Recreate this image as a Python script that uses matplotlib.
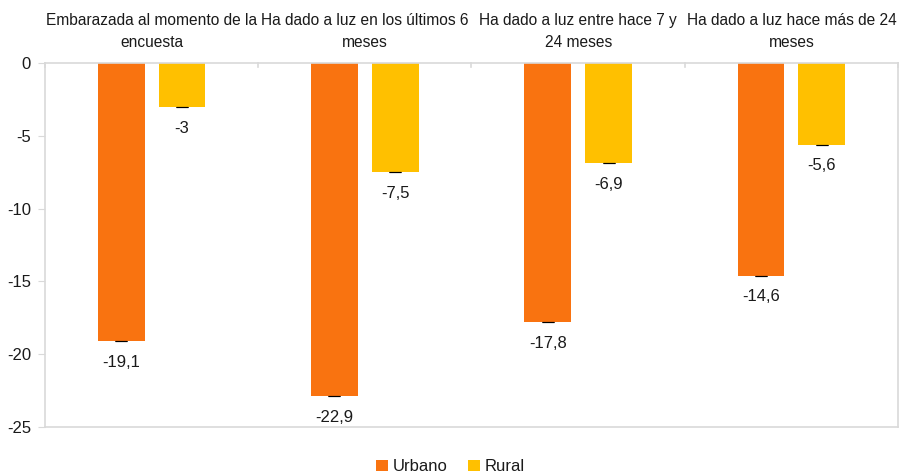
import numpy as np
import matplotlib.pyplot as plt

plt.rcParams['font.family'] = ['Liberation Sans', 'DejaVu Sans']
plt.rcParams['axes.unicode_minus'] = False

# Data
categories = ['Embarazada al momento de la\nencuesta',
              'Ha dado a luz en los últimos 6\nmeses',
              'Ha dado a luz entre hace 7 y\n24 meses',
              'Ha dado a luz hace más de 24\nmeses']
urbano = [-19.1, -22.9, -17.8, -14.6]
rural = [-3, -7.5, -6.9, -5.6]
series_names = ['Urbano', 'Rural']

c_urb = '#F97310'
c_rur = '#FFC000'
grid_c = '#D9D9D9'

fig = plt.figure(figsize=(9.01, 4.75), dpi=100)
ax = fig.add_axes([0.0499, 0.1011, 0.9468, 0.7663])

x = np.arange(len(categories))
w = 0.22
off = 0.1425

b1 = ax.bar(x - off, urbano, w, color=c_urb, label=series_names[0])
b2 = ax.bar(x + off, rural, w, color=c_rur, label=series_names[1])

# tiny error caps at bar ends
ax.errorbar(x - off, urbano, yerr=0.0, fmt='none', ecolor='black',
            capsize=4, elinewidth=0.8, capthick=0.8)
ax.errorbar(x + off, rural, yerr=0.0, fmt='none', ecolor='black',
            capsize=4, elinewidth=0.8, capthick=0.8)

# value labels
for xs, vals in [(x - off, urbano), (x + off, rural)]:
    for xi, v in zip(xs, vals):
        lbl = f'{v:g}'.replace('.', ',')
        ax.annotate(lbl, (xi, v), xytext=(0, -10), textcoords='offset points',
                    ha='center', va='top', fontsize=12, color='#1a1a1a')

# category labels above the plot
for xi, cat in zip(x, categories):
    ax.annotate(cat, (xi, 1), xycoords=ax.get_xaxis_transform(),
                xytext=(0, 9), textcoords='offset points',
                ha='center', va='bottom', fontsize=11.2, linespacing=1.6,
                color='#1a1a1a')

ax.set_xlim(-0.5, len(categories) - 0.5)
ax.set_ylim(-25, 0)
ax.set_yticks(np.arange(-25, 1, 5))
ax.tick_params(axis='y', length=5, color=grid_c, labelsize=12, pad=5,
               labelcolor='#1a1a1a')

# category boundary ticks on the zero line
ax.set_xticks([])
for bx in np.arange(-0.5, len(categories) + 0.5, 1.0):
    ax.plot([bx, bx], [0, -0.3], color=grid_c, lw=1.2, clip_on=False)

for s in ax.spines.values():
    s.set_color(grid_c)
    s.set_linewidth(1.2)

fig.legend(handles=[b1, b2], labels=series_names, loc='lower center',
           bbox_to_anchor=(0.5, -0.03), ncol=2, frameon=False, fontsize=12,
           handlelength=0.7, handleheight=0.7, handletextpad=0.3, columnspacing=1.2,
           labelcolor='#1a1a1a')

fig.savefig('out.png', dpi=100)
